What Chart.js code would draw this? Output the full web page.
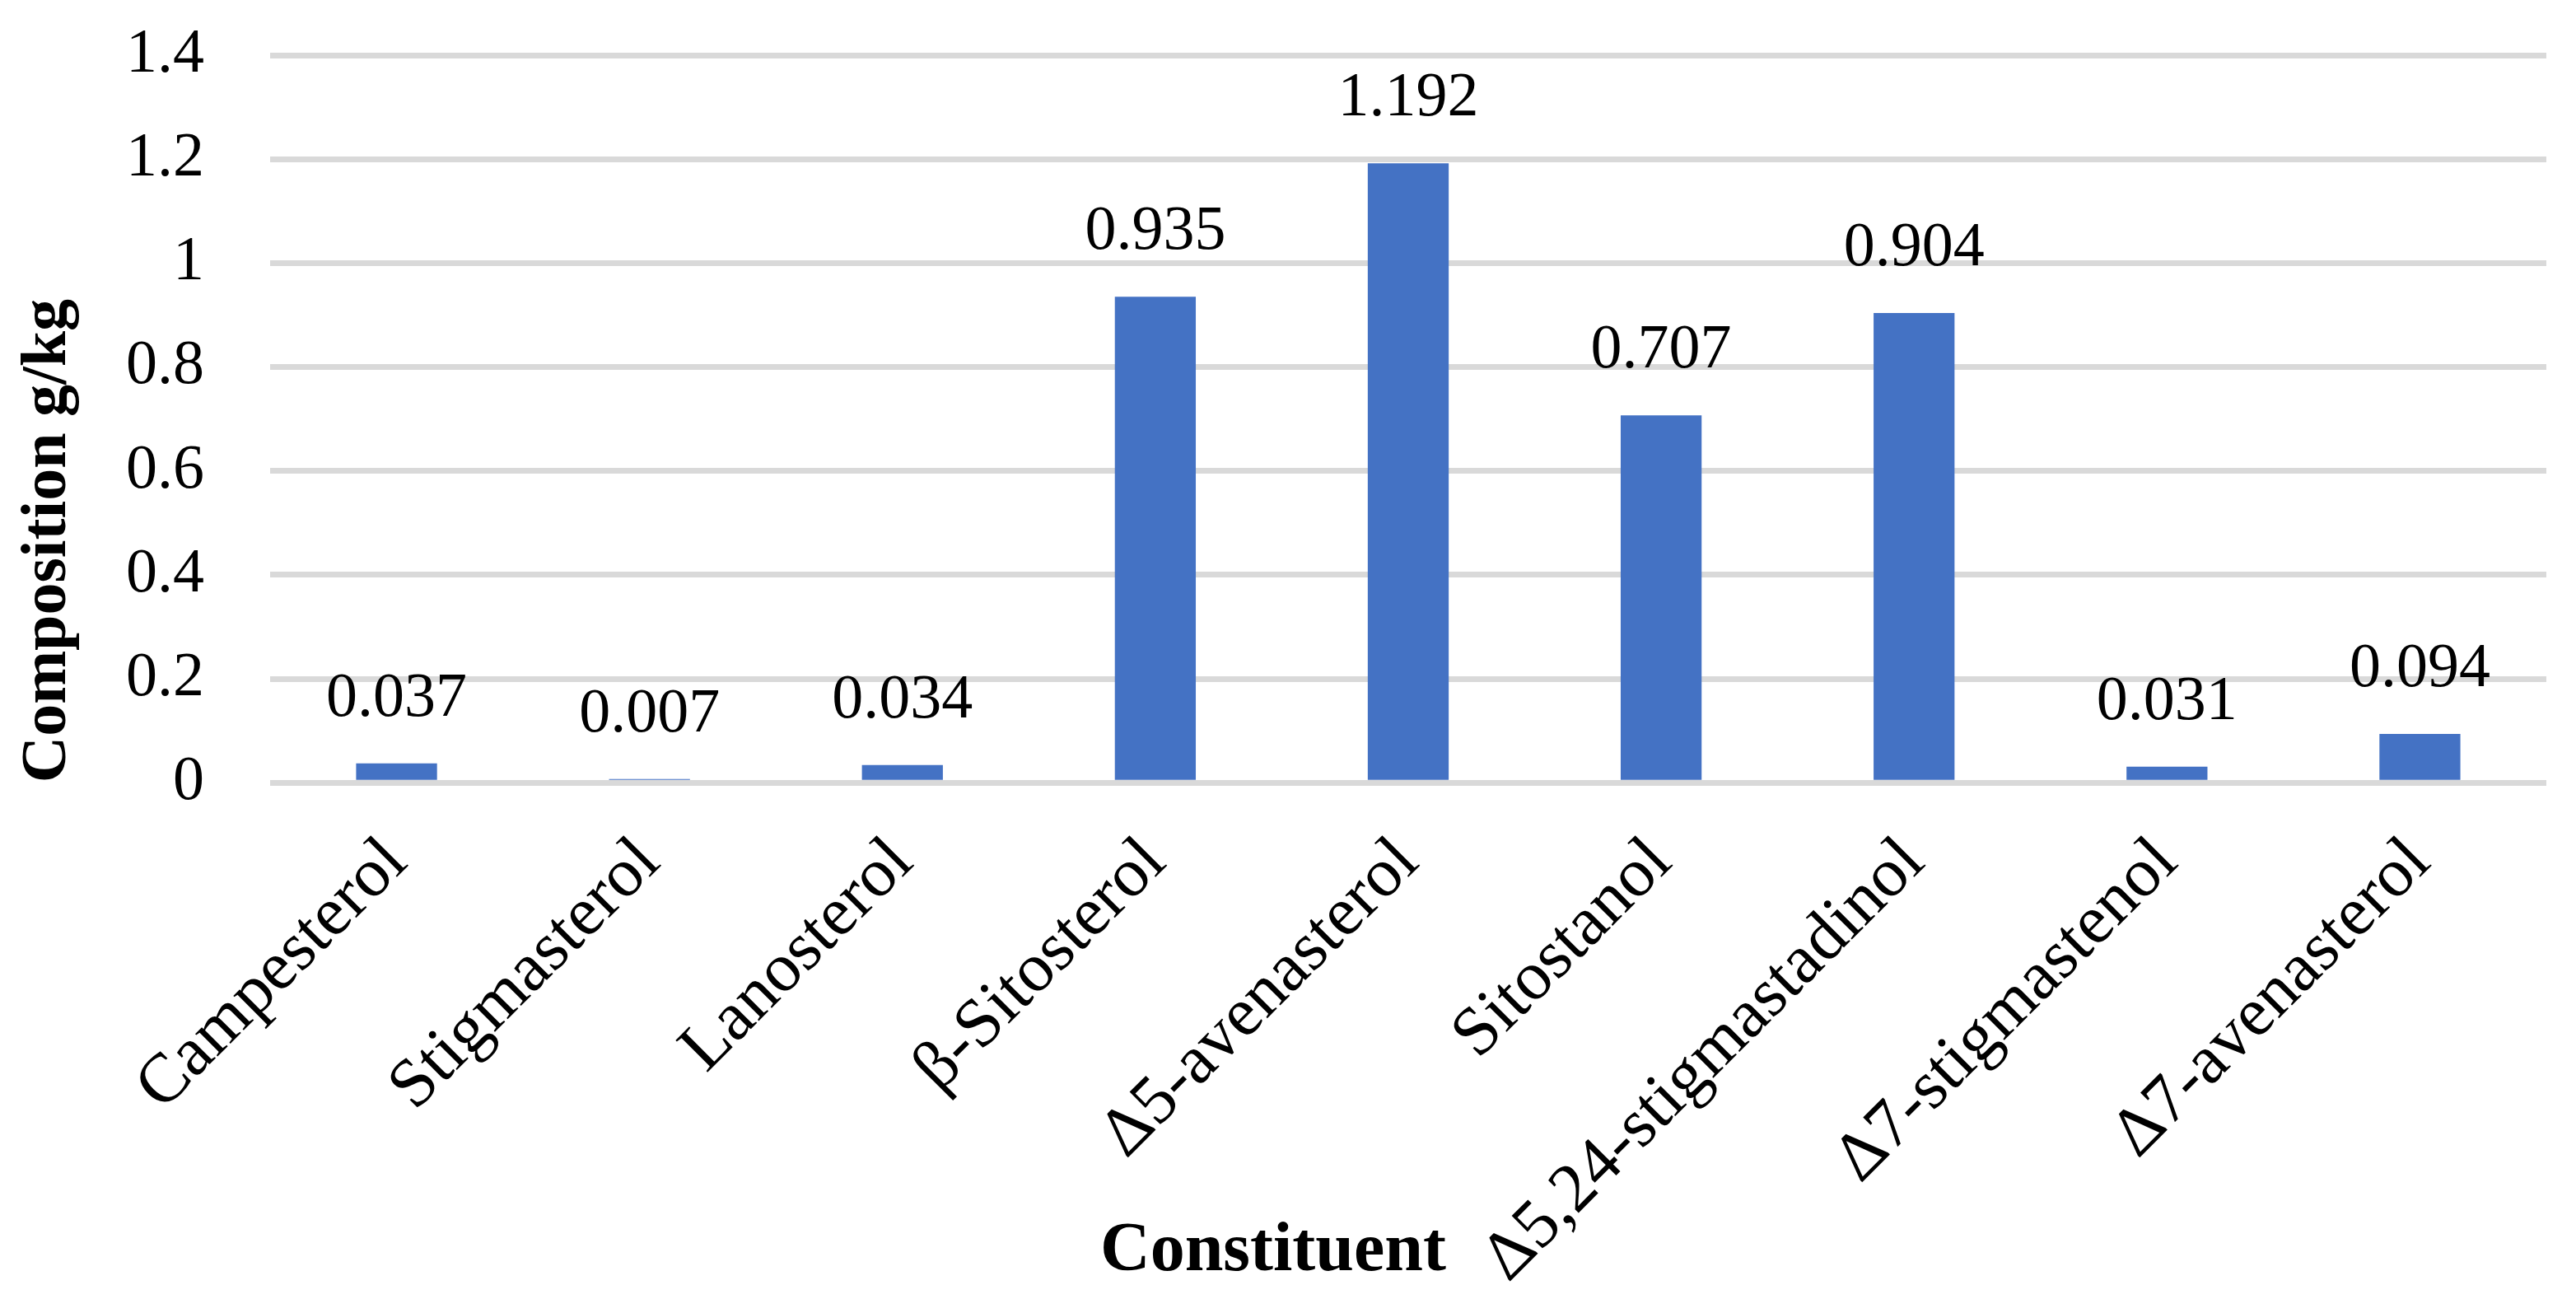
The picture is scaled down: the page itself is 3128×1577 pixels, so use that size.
<!DOCTYPE html>
<html>
<head>
<meta charset="utf-8">
<script src="https://cdn.jsdelivr.net/npm/chart.js@4.4.0/dist/chart.umd.min.js"></script>
<style>
  html, body { margin: 0; padding: 0; background: #fff; }
</style>
</head>
<body>
<canvas id="chart" width="3128" height="1577"></canvas>
<script>
const constituents = ['Campesterol', 'Stigmasterol', 'Lanosterol', 'β-Sitosterol', 'Δ5-avenasterol',
  'Sitostanol', 'Δ5,24-stigmastadinol', 'Δ7-stigmastenol', 'Δ7-avenasterol'];
const composition = [0.037, 0.007, 0.034, 0.935, 1.192, 0.707, 0.904, 0.031, 0.094];
const yMin = 0;
const yMax = 1.4;
const yStep = 0.2;

const serif = '"Liberation Serif", "Times New Roman", serif';

// value labels above each bar
const valueLabels = {
  id: 'valueLabels',
  afterDatasetsDraw(chart) {
    const ctx = chart.ctx;
    const meta = chart.getDatasetMeta(0);
    ctx.save();
    ctx.font = '76px ' + serif;
    ctx.fillStyle = '#000';
    ctx.textAlign = 'center';
    ctx.textBaseline = 'alphabetic';
    meta.data.forEach((bar, i) => {
      ctx.fillText(composition[i].toFixed(3), bar.x, bar.y - 58);
    });
    ctx.restore();
  }
};

new Chart(document.getElementById('chart'), {
  type: 'bar',
  data: {
    labels: constituents,
    datasets: [{
      data: composition,
      backgroundColor: '#4472C4',
      barPercentage: 0.32,
      categoryPercentage: 1.0
    }]
  },
  options: {
    responsive: false,
    animation: false,
    devicePixelRatio: 1,
    layout: { padding: { top: 67, right: 36, left: 0, bottom: 0 } },
    plugins: {
      legend: { display: false },
      tooltip: { enabled: false },
      // centred on the whole chart like the original; the negative top padding
      // lets it sit beside the long rotated labels instead of pushing them up
      title: {
        display: true,
        text: 'Constituent',
        position: 'bottom',
        color: '#000',
        font: { family: serif, size: 84, weight: 'bold' },
        padding: { top: -100, bottom: 6 }
      }
    },
    scales: {
      x: {
        grid: { display: false },
        border: { display: false },
        ticks: {
          color: '#000',
          font: { family: serif, size: 84 },
          minRotation: 45,
          maxRotation: 45,
          autoSkip: false,
          padding: 40
        },
        afterFit(scale) { scale.height = 620; }
      },
      y: {
        min: yMin,
        max: yMax,
        // gap between labels and plot comes from an invisible tick mark,
        // tick padding would also push the plot top down
        grid: { color: '#D9D9D9', lineWidth: 7, drawTicks: true, tickLength: 80, tickColor: 'rgba(0,0,0,0)' },
        border: { display: false },
        ticks: {
          stepSize: yStep,
          color: '#000',
          font: { family: serif, size: 76 },
          padding: 0,
          callback: v => String(+v.toFixed(1))
        },
        title: {
          display: true,
          text: 'Composition g/kg',
          align: 'start',
          color: '#000',
          font: { family: serif, size: 78, weight: 'bold' },
          padding: { top: 12, bottom: 0 }
        },
        afterFit(scale) { scale.width = 328; }
      }
    }
  },
  plugins: [valueLabels]
});
</script>
</body>
</html>
